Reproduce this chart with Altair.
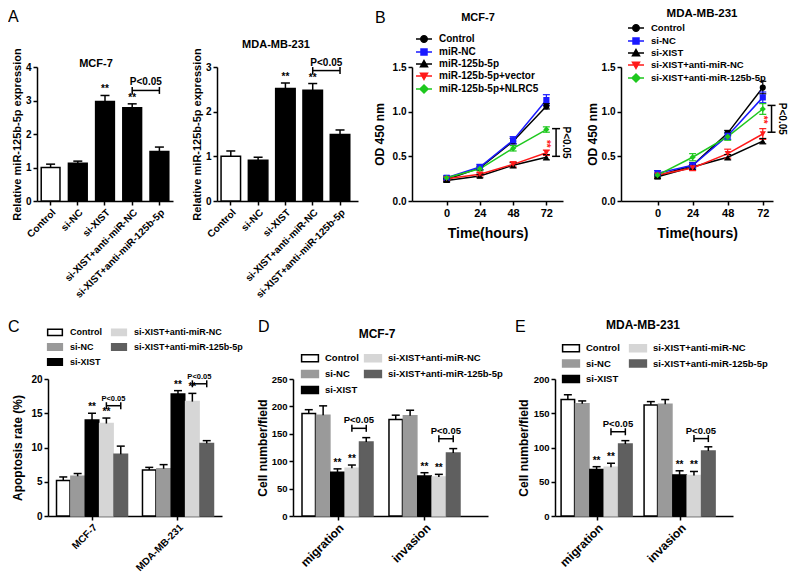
import altair as alt
import pandas as pd

FONT = "Liberation Sans"

# ---------------- Panel A: relative miR-125b-5p expression ----------------
a_groups = ["Control", "si-NC", "si-XIST", "si-XIST+anti-miR-NC", "si-XIST+anti-miR-125b-5p"]
a_mcf7_mean = [1.00, 1.13, 2.97, 2.78, 1.48]
a_mcf7_err = [0.10, 0.06, 0.18, 0.12, 0.13]
a_mda_mean = [1.00, 0.91, 2.52, 2.48, 1.49]
a_mda_err = [0.12, 0.07, 0.12, 0.15, 0.10]
a_stars = ["", "", "**", "**", ""]
a_mcf7_bracket = 3.30
a_mda_bracket = 2.92

# ---------------- Panel B: OD 450 nm growth curves ----------------
b_time = [0, 24, 48, 72]
b_mcf7_series = ["Control", "miR-NC", "miR-125b-5p", "miR-125b-5p+vector", "miR-125b-5p+NLRC5"]
b_mcf7_control = [0.24, 0.37, 0.67, 1.06]
b_mcf7_mirnc = [0.26, 0.38, 0.68, 1.13]
b_mcf7_mir125 = [0.23, 0.28, 0.40, 0.49]
b_mcf7_vector = [0.25, 0.30, 0.41, 0.54]
b_mcf7_nlrc5 = [0.26, 0.36, 0.59, 0.80]
b_mcf7_control_err = [0.02, 0.02, 0.03, 0.03]
b_mcf7_mirnc_err = [0.02, 0.03, 0.04, 0.06]
b_mcf7_mir125_err = [0.02, 0.02, 0.03, 0.03]
b_mcf7_vector_err = [0.02, 0.02, 0.03, 0.03]
b_mcf7_nlrc5_err = [0.02, 0.02, 0.03, 0.03]
b_mcf7_bracket = [0.50, 0.81]
b_mcf7_star = 0.64

b_mda_series = ["Control", "si-NC", "si-XIST", "si-XIST+anti-miR-NC", "si-XIST+anti-miR-125b-5p"]
b_mda_control = [0.28, 0.40, 0.76, 1.27]
b_mda_sinc = [0.31, 0.40, 0.73, 1.16]
b_mda_sixist = [0.27, 0.38, 0.49, 0.67]
b_mda_antinc = [0.29, 0.37, 0.53, 0.75]
b_mda_anti125 = [0.29, 0.49, 0.72, 1.03]
b_mda_control_err = [0.02, 0.03, 0.03, 0.07]
b_mda_sinc_err = [0.03, 0.03, 0.04, 0.06]
b_mda_sixist_err = [0.02, 0.03, 0.03, 0.03]
b_mda_antinc_err = [0.02, 0.03, 0.05, 0.06]
b_mda_anti125_err = [0.02, 0.04, 0.04, 0.06]
b_mda_bracket = [0.77, 1.07]
b_mda_star = 0.91

# ---------------- Panels C, D, E: grouped bars ----------------
bar_series = ["Control", "si-NC", "si-XIST", "si-XIST+anti-miR-NC", "si-XIST+anti-miR-125b-5p"]
bar_stars = ["", "", "**", "**", ""]

c_groups = ["MCF-7", "MDA-MB-231"]
c_control = [5.2, 6.7]
c_sinc = [5.8, 6.9]
c_sixist = [14.0, 17.8]
c_antinc = [13.5, 16.7]
c_anti125 = [9.0, 10.6]
c_control_err = [0.5, 0.4]
c_sinc_err = [0.4, 0.6]
c_sixist_err = [1.0, 0.5]
c_antinc_err = [0.8, 1.2]
c_anti125_err = [1.2, 0.4]
c_bracket = [16.1, 19.3]

d_groups = ["migration", "invasion"]
d_control = [187, 176]
d_sinc = [184, 183]
d_sixist = [80, 73]
d_antinc = [87, 71]
d_anti125 = [135, 115]
d_control_err = [7, 8]
d_sinc_err = [17, 10]
d_sixist_err = [6, 6]
d_antinc_err = [6, 5]
d_anti125_err = [8, 8]
d_bracket = [160, 141]

e_groups = ["migration", "invasion"]
e_control = [170, 162]
e_sinc = [164, 163]
e_sixist = [68, 60]
e_antinc = [71, 59]
e_anti125 = [105, 95]
e_control_err = [7, 5]
e_sinc_err = [4, 7]
e_sixist_err = [4, 6]
e_antinc_err = [6, 6]
e_anti125_err = [5, 6]
e_bracket = [123, 113]

# ---------------- styles ----------------
LINE_COLORS = ["#000000", "#1a1aff", "#000000", "#ff1a1a", "#1ec81e"]
MARKERS = ["circle", "square", "triangle-up", "triangle-down", "diamond"]
LEG_LINE = "M-1.6,0H1.6"
LEG_PATHS = [
    LEG_LINE + "M0.65,0A0.65,0.65,0,1,1,-0.65,0A0.65,0.65,0,1,1,0.65,0Z",
    LEG_LINE + "M-0.6,-0.6H0.6V0.6H-0.6Z",
    LEG_LINE + "M0,-0.7L0.7,0.55H-0.7Z",
    LEG_LINE + "M0,0.7L0.7,-0.55H-0.7Z",
    LEG_LINE + "M0,-0.8L0.8,0L0,0.8L-0.8,0Z",
]
BAR_FILL = ["#ffffff", "#9a9a9a", "#000000", "#d6d6d6", "#5f5f5f"]
BAR_STROKE = ["#000000", "#9a9a9a", "#000000", "#d6d6d6", "#5f5f5f"]
BAR_RECT = "M-1.2,-0.5H1.2V0.5H-1.2Z"

TOP_H = 134
BOT_H = 137
INDEP = dict(fill="independent", stroke="independent", shape="independent", color="independent")


def label(text, x, y, size, weight="bold", align="center", color="black", angle=0):
    return alt.Chart(pd.DataFrame({"t": [text]})).mark_text(
        font=FONT, fontSize=size, fontWeight=weight, align=align, baseline="middle",
        color=color, angle=angle
    ).encode(x=alt.value(x), y=alt.value(y), text="t:N")


def spacer(w):
    return alt.Chart(pd.DataFrame({"v": [0]})).mark_text(text="").encode(
        x=alt.value(0), y=alt.value(0)).properties(width=w, height=10)


def panel_a(means, errs, ymax, bracket, width, pin, pout, align, title, title_xy, letter_xy=None):
    df = pd.DataFrame({"grp": a_groups, "mean": means, "err": errs, "star": a_stars})
    df["top"] = df["mean"] + df["err"]
    X = alt.X("grp:N", sort=a_groups,
              scale=alt.Scale(domain=a_groups, paddingInner=pin, paddingOuter=pout, align=align),
              axis=alt.Axis(title=None, labelAngle=-45, labelFontSize=10))
    ys = alt.Scale(domain=[0, ymax], nice=False)
    ya = alt.Axis(title="Relative miR-125b-5p expression", values=list(range(ymax + 1)),
                  labelFontSize=10, titleFontSize=11, titlePadding=3)

    def Y(f):
        return alt.Y(f + ":Q", scale=ys, axis=ya)

    base = alt.Chart(df)
    bars = base.mark_bar(strokeWidth=1.5).encode(
        x=X, y=Y("mean"),
        fill=alt.Fill("grp:N", scale=alt.Scale(domain=a_groups, range=["#ffffff"] + ["#000000"] * 4), legend=None),
        stroke=alt.value("black"))
    err = base.mark_rule(color="black", strokeWidth=1.5).encode(x=X, y=Y("mean"), y2="top:Q")
    cap = base.mark_tick(orient="horizontal", size=9, thickness=1.5, color="black", opacity=1).encode(x=X, y=Y("top"))
    stars = base.mark_text(baseline="bottom", dy=-1, fontSize=10, fontWeight="bold", font=FONT,
                           color="black").encode(x=X, y=Y("top"), text="star:N")
    brdf = pd.DataFrame({"grp": a_groups[3:], "y": [bracket, bracket]})
    brl = alt.Chart(brdf).mark_line(color="black", strokeWidth=1.5).encode(x=X, y=Y("y"))
    brc = alt.Chart(brdf).mark_tick(orient="vertical", size=7, thickness=1.5, color="black", opacity=1).encode(x=X, y=Y("y"))
    pt = alt.Chart(brdf.head(1).assign(s="P<0.05")).mark_text(
        baseline="bottom", dy=-3, dx=13.6, fontSize=10, fontWeight="bold", font=FONT, color="black").encode(
        x=X, y=Y("y"), text="s:N")
    layers = [bars, err, cap, stars, brl, brc, pt, label(title, title_xy[0], title_xy[1], 11)]
    if letter_xy:
        layers.append(label("A", letter_xy[0], letter_xy[1], 16, weight="normal", align="left"))
    return alt.layer(*layers).properties(width=width, height=TOP_H)


def panel_b(series, means, errs, xmax, bracket, star_y, br_x, p_x, width, lx, ly, lfs, lrow,
            title, title_xy, ttl_size, letter=None, letter_xy=None, ytitle_pad=4):
    rows = []
    for s, m, e, col, shp in zip(series, means, errs, LINE_COLORS, MARKERS):
        for t, mv, ev in zip(b_time, m, e):
            rows.append({"series": s, "t": t, "mean": mv, "lo": mv - ev, "hi": mv + ev, "col": col, "shp": shp})
    df = pd.DataFrame(rows)
    xs = alt.Scale(domain=[-25, xmax], nice=False, zero=False)
    xa = alt.Axis(title="Time(hours)", values=b_time, labelFontSize=11, titleFontSize=14, titlePadding=8)
    ys = alt.Scale(domain=[0, 1.5], nice=False)
    ya = alt.Axis(title="OD 450 nm", values=[0, 0.5, 1.0, 1.5], format=".1f", labelFontSize=10,
                  titleFontSize=12, titlePadding=ytitle_pad)
    X = alt.X("t:Q", scale=xs, axis=xa)

    def Y(f):
        return alt.Y(f + ":Q", scale=ys, axis=ya)

    base = alt.Chart(df)
    line = base.mark_line(strokeWidth=1.5).encode(
        x=X, y=Y("mean"), stroke=alt.Stroke("col:N", scale=None, legend=None), detail="series:N")
    erule = base.mark_rule(strokeWidth=1.2).encode(
        x=X, y=Y("lo"), y2="hi:Q", stroke=alt.Stroke("col:N", scale=None, legend=None))
    ecap1 = base.mark_tick(orient="horizontal", size=7, thickness=1.2, opacity=1).encode(
        x=X, y=Y("lo"), color=alt.Color("col:N", scale=None, legend=None))
    ecap2 = base.mark_tick(orient="horizontal", size=7, thickness=1.2, opacity=1).encode(
        x=X, y=Y("hi"), color=alt.Color("col:N", scale=None, legend=None))
    pts = base.mark_point(filled=True, size=38, opacity=1).encode(
        x=X, y=Y("mean"), fill=alt.Fill("col:N", scale=None, legend=None),
        shape=alt.Shape("shp:N", scale=None, legend=None))
    leg = alt.Legend(title=None, orient="none", legendX=lx, legendY=ly, symbolSize=100, symbolStrokeWidth=1.5,
                     labelFont=FONT, labelFontSize=lfs, labelFontWeight="bold", labelColor="black",
                     labelOffset=9, rowPadding=lrow, padding=0, symbolOpacity=1)
    lg = base.transform_filter("false").mark_point(filled=True, opacity=1).encode(
        x=X, y=Y("mean"),
        fill=alt.Fill("series:N", scale=alt.Scale(domain=series, range=LINE_COLORS), legend=leg),
        stroke=alt.Stroke("series:N", scale=alt.Scale(domain=series, range=LINE_COLORS), legend=leg),
        shape=alt.Shape("series:N", scale=alt.Scale(domain=series, range=LEG_PATHS), legend=leg))
    brdf = pd.DataFrame({"t": [br_x], "lo": [bracket[0]], "hi": [bracket[1]]})
    brule = alt.Chart(brdf).mark_rule(color="black", strokeWidth=1.5).encode(x=X, y=Y("lo"), y2="hi:Q")
    bcap1 = alt.Chart(brdf).mark_tick(orient="horizontal", size=8, thickness=1.5, color="black", opacity=1).encode(x=X, y=Y("lo"))
    bcap2 = alt.Chart(brdf).mark_tick(orient="horizontal", size=8, thickness=1.5, color="black", opacity=1).encode(x=X, y=Y("hi"))
    ptxt = alt.Chart(pd.DataFrame({"t": [p_x], "y": [sum(bracket) / 2], "s": ["P<0.05"]})).mark_text(
        angle=90, fontSize=10, fontWeight="bold", font=FONT, baseline="middle", color="black").encode(
        x=X, y=Y("y"), text="s:N")
    star = alt.Chart(pd.DataFrame({"t": [72], "y": [star_y], "s": ["**"]})).mark_text(
        angle=90, fontSize=10, fontWeight="bold", font=FONT, color="#ff1a1a", baseline="middle").encode(
        x=X, y=Y("y"), text="s:N")
    layers = [line, erule, ecap1, ecap2, pts, lg, brule, bcap1, bcap2, ptxt, star,
              label(title, title_xy[0], title_xy[1], ttl_size)]
    if letter:
        layers.append(label(letter, letter_xy[0], letter_xy[1], 16, weight="normal", align="left"))
    return alt.layer(*layers).resolve_scale(**INDEP).properties(width=width, height=TOP_H)


def panel_grouped(groups, vals, errs, brackets, ymax, ystep, ytitle, width, pin, pout, align,
                  xlab_size, ylab_size, ytitle_size, ytitle_pad, lx, ly, lfs, lrow, lcol, loff, rect,
                  ptxt_size, letter, letter_xy, title=None, title_xy=None):
    rows = []
    for gi, g in enumerate(groups):
        for si, s in enumerate(bar_series):
            rows.append({"grp": g, "series": s, "mean": vals[si][gi], "err": errs[si][gi], "star": bar_stars[si]})
    df = pd.DataFrame(rows)
    df["top"] = df["mean"] + df["err"]
    X = alt.X("grp:N", sort=groups,
              scale=alt.Scale(domain=groups, paddingInner=pin, paddingOuter=pout, align=align),
              axis=alt.Axis(title=None, labelAngle=-45, labelFontSize=xlab_size))
    XO = alt.XOffset("series:N", sort=bar_series, scale=alt.Scale(domain=bar_series, paddingInner=0.06))
    ys = alt.Scale(domain=[0, ymax], nice=False)
    ya = alt.Axis(title=ytitle, values=list(range(0, ymax + 1, ystep)), labelFontSize=ylab_size,
                  titleFontSize=ytitle_size, titlePadding=ytitle_pad)

    def Y(f):
        return alt.Y(f + ":Q", scale=ys, axis=ya)

    leg = alt.Legend(title=None, orient="none", legendX=lx, legendY=ly, columns=2, symbolType=rect,
                     symbolSize=196, symbolStrokeWidth=1.5, labelFont=FONT, labelFontSize=lfs,
                     labelFontWeight="bold", labelColor="black", labelOffset=loff, rowPadding=lrow,
                     columnPadding=lcol, padding=0, symbolOpacity=1)
    base = alt.Chart(df)
    bars = base.mark_bar(strokeWidth=1.5).encode(
        x=X, xOffset=XO, y=Y("mean"),
        fill=alt.Fill("series:N", scale=alt.Scale(domain=bar_series, range=BAR_FILL), legend=leg),
        stroke=alt.Stroke("series:N", scale=alt.Scale(domain=bar_series, range=BAR_STROKE), legend=leg))
    err = base.mark_rule(color="black", strokeWidth=1.5).encode(x=X, xOffset=XO, y=Y("mean"), y2="top:Q")
    cap = base.mark_tick(orient="horizontal", size=8, thickness=1.5, color="black", opacity=1).encode(
        x=X, xOffset=XO, y=Y("top"))
    stars = base.mark_text(baseline="bottom", dy=-1, fontSize=10, fontWeight="bold", font=FONT,
                           color="black").encode(x=X, xOffset=XO, y=Y("top"), text="star:N")
    brrows = []
    for g, b in zip(groups, brackets):
        for s in bar_series[3:]:
            brrows.append({"grp": g, "series": s, "y": b})
    brdf = pd.DataFrame(brrows)
    brl = alt.Chart(brdf).mark_line(color="black", strokeWidth=1.5).encode(
        x=X, xOffset=XO, y=Y("y"), detail="grp:N")
    brc = alt.Chart(brdf).mark_tick(orient="vertical", size=7, thickness=1.5, color="black", opacity=1).encode(
        x=X, xOffset=XO, y=Y("y"))
    pt = alt.Chart(brdf[brdf["series"] == bar_series[3]].assign(s="P<0.05")).mark_text(
        baseline="bottom", dy=-3, dx=7, fontSize=ptxt_size, fontWeight="bold", font=FONT, color="black").encode(
        x=X, xOffset=XO, y=Y("y"), text="s:N")
    layers = [bars, err, cap, stars, brl, brc, pt,
              label(letter, letter_xy[0], letter_xy[1], 16, weight="normal", align="left")]
    if title:
        layers.append(label(title, title_xy[0], title_xy[1], 12))
    return alt.layer(*layers).properties(width=width, height=BOT_H)


A1 = panel_a(a_mcf7_mean, a_mcf7_err, 4, a_mcf7_bracket, 136, 0.31, 0.155, 0.5,
             "MCF-7", (59, -3), letter_xy=(-29, -50))
A2 = panel_a(a_mda_mean, a_mda_err, 3, a_mda_bracket, 141, 0.286, 0.225, 0.33,
             "MDA-MB-231", (59, -22))
B1 = panel_b(b_mcf7_series,
             [b_mcf7_control, b_mcf7_mirnc, b_mcf7_mir125, b_mcf7_vector, b_mcf7_nlrc5],
             [b_mcf7_control_err, b_mcf7_mirnc_err, b_mcf7_mir125_err, b_mcf7_vector_err, b_mcf7_nlrc5_err],
             84, b_mcf7_bracket, b_mcf7_star, 79, 86.5, 151, 6, -34, 10, -2.3,
             "MCF-7", (66, -49), 11, letter="B", letter_xy=(-37, -49), ytitle_pad=6)
B2 = panel_b(b_mda_series,
             [b_mda_control, b_mda_sinc, b_mda_sixist, b_mda_antinc, b_mda_anti125],
             [b_mda_control_err, b_mda_sinc_err, b_mda_sixist_err, b_mda_antinc_err, b_mda_anti125_err],
             79, b_mda_bracket, b_mda_star, 78, 85, 152, 9, -45, 9.5, -2.2,
             "MDA-MB-231", (81, -53), 11.5, ytitle_pad=2)
C = panel_grouped(c_groups, [c_control, c_sinc, c_sixist, c_antinc, c_anti125],
                  [c_control_err, c_sinc_err, c_sixist_err, c_antinc_err, c_anti125_err],
                  c_bracket, 20, 5, "Apoptosis rate (%)", 174, 0.174, 0.099, 0.5,
                  10, 10, 12, 6, -1, -55, 9, -0.5, 6, 7, "M-1.05,-0.45H1.05V0.45H-1.05Z",
                  7.5, "C", (-40, -52))
D = panel_grouped(d_groups, [d_control, d_sinc, d_sixist, d_antinc, d_anti125],
                  [d_control_err, d_sinc_err, d_sixist_err, d_antinc_err, d_anti125_err],
                  d_bracket, 250, 50, "Cell number/field", 195, 0.172, 0.207, 0.25,
                  12, 9.5, 12, 2, 9, -29, 9.5, 1, 2, 7, BAR_RECT,
                  9.5, "D", (-35, -52), title="MCF-7", title_xy=(84, -45))
E = panel_grouped(e_groups, [e_control, e_sinc, e_sixist, e_antinc, e_anti125],
                  [e_control_err, e_sinc_err, e_sixist_err, e_antinc_err, e_anti125_err],
                  e_bracket, 200, 50, "Cell number/field", 178, 0.127, 0.136, 0.27,
                  12, 9.5, 12, 3, 8, -39, 9.5, 0.5, 6, 7, BAR_RECT,
                  9.5, "E", (-40, -52), title="MDA-MB-231", title_xy=(88, -54))

top_row = alt.hconcat(A1, spacer(44), A2, spacer(54), B1, spacer(58), B2,
                      spacing=0, bounds="flush").resolve_scale(**INDEP)
bottom_row = alt.hconcat(spacer(11), C, spacer(71), D, spacer(67), E,
                         spacing=0, bounds="flush").resolve_scale(**INDEP)

chart = alt.vconcat(top_row, bottom_row, spacing=312, bounds="flush").resolve_scale(
    **INDEP
).properties(
    padding={"left": 0, "top": 0, "right": 5, "bottom": 0}
).configure_view(stroke=None).configure_axis(
    domainColor="black", domainWidth=1.5, tickColor="black", tickWidth=1.5, tickSize=4,
    labelColor="black", titleColor="black", labelFont=FONT, titleFont=FONT,
    labelFontWeight="bold", titleFontWeight="bold", grid=False, labelPadding=2
).configure_text(font=FONT)

chart.save("out.html", embed_options={"renderer": "svg", "actions": False})
